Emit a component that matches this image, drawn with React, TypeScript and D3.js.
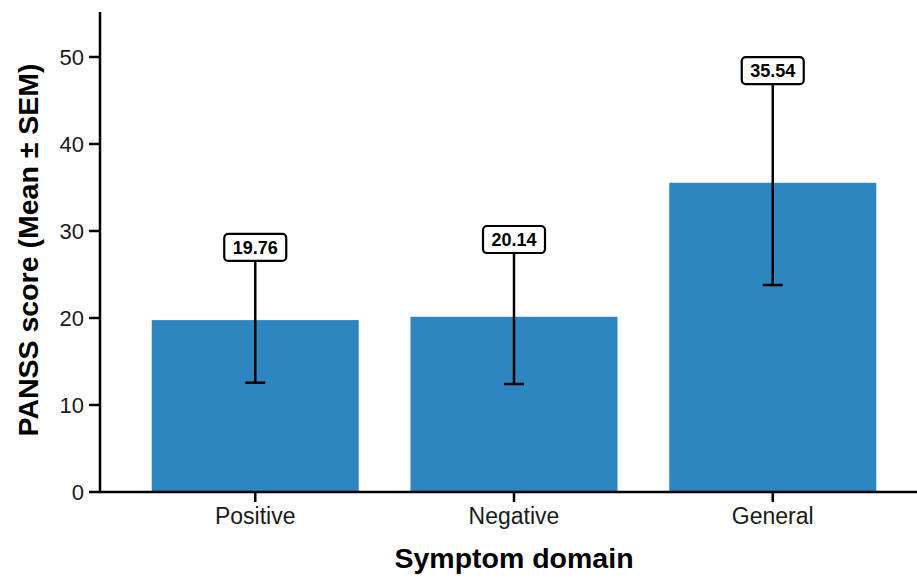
import React from "react";
import * as d3 from "d3";

const categories = ["Positive", "Negative", "General"];
const means = [19.76, 20.14, 35.54];
const sems = [7.2, 7.73, 11.75];
const yTicks = [0, 10, 20, 30, 40, 50];

const W = 917;
const H = 578;
const FONT = "'Liberation Sans', Arial, sans-serif";

export default function App() {
  const x = d3.scaleBand<string>().domain(categories).range([100, 928]).paddingInner(0.2).paddingOuter(0.2);
  const y = d3.scaleLinear().domain([0, 55.17]).range([492, 12]);
  const bw = x.bandwidth();
  return (
    <svg width={W} height={H} style={{ position: "absolute", left: 0, top: 0, background: "#fff" }}>
      {categories.map((c, i) => {
        const cx = (x(c) as number) + bw / 2;
        const lo = y(means[i] - sems[i]);
        const hi = y(means[i] + sems[i]);
        const label = means[i].toFixed(2);
        const boxW = 62;
        const boxH = 27;
        const by = hi - 10 - boxH / 2;
        return (
          <g key={c}>
            <rect x={x(c)} y={y(means[i])} width={bw} height={y(0) - y(means[i])} fill="#2E86C1" />
            <line x1={cx} x2={cx} y1={lo} y2={hi} stroke="#000" strokeWidth={2.5} />
            <line x1={cx - 10} x2={cx + 10} y1={lo} y2={lo} stroke="#000" strokeWidth={2.5} />
            <line x1={cx - 10} x2={cx + 10} y1={hi} y2={hi} stroke="#000" strokeWidth={2.5} />
            <rect x={cx - boxW / 2} y={by} width={boxW} height={boxH} rx={4} ry={4} fill="#fff" stroke="#000" strokeWidth={2.2} />
            <text x={cx} y={by + boxH / 2 + 6.5} textAnchor="middle" fontFamily={FONT} fontWeight="bold" fontSize={18} fill="#000">{label}</text>
          </g>
        );
      })}
      {/* Y axis */}
      <line x1={100} x2={100} y1={12} y2={493} stroke="#000" strokeWidth={2.5} />
      {yTicks.map((t) => (
        <g key={t}>
          <line x1={89} x2={100} y1={y(t)} y2={y(t)} stroke="#000" strokeWidth={2.5} />
          <text x={84} y={y(t) + 8} textAnchor="end" fontFamily={FONT} fontSize={22} fill="#1a1a1a">{t}</text>
        </g>
      ))}
      {/* X axis */}
      <line x1={99} x2={928} y1={492} y2={492} stroke="#000" strokeWidth={2.5} />
      {categories.map((c) => {
        const cx = (x(c) as number) + bw / 2;
        return (
          <g key={c}>
            <line x1={cx} x2={cx} y1={492} y2={502} stroke="#000" strokeWidth={2.5} />
            <text x={cx} y={524} textAnchor="middle" fontFamily={FONT} fontSize={23} fill="#1a1a1a">{c}</text>
          </g>
        );
      })}
      <text x={514} y={568} textAnchor="middle" fontFamily={FONT} fontWeight="bold" fontSize={28.5} fill="#000">Symptom domain</text>
      <text transform="translate(38,250) rotate(-90)" textAnchor="middle" fontFamily={FONT} fontWeight="bold" fontSize={28.5} fill="#000">PANSS score (Mean ± SEM)</text>
    </svg>
  );
}
